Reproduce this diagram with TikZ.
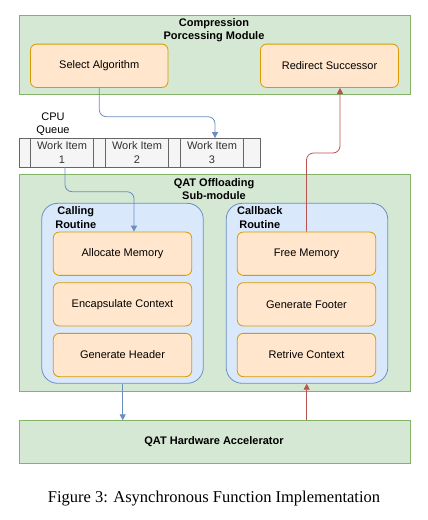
\documentclass[tikz,border=0pt]{standalone}
\usepackage{fontspec}
\setmainfont{Liberation Sans}
\newfontfamily\capfont{Liberation Serif}
\usetikzlibrary{arrows.meta,calc}
\definecolor{gfill}{HTML}{D5E8D4}
\definecolor{gdraw}{HTML}{82B366}
\definecolor{ofill}{HTML}{FFE6CC}
\definecolor{odraw}{HTML}{D79B00}
\definecolor{bfill}{HTML}{DAE8FC}
\definecolor{bdraw}{HTML}{6C8EBF}
\definecolor{qfill}{HTML}{F5F5F5}
\definecolor{qdraw}{HTML}{666666}
\definecolor{qtext}{HTML}{333333}
\definecolor{rdraw}{HTML}{B85450}
\tikzset{
  box/.style={draw=gdraw,fill=gfill,line width=0.8pt,inner sep=0pt,minimum width=391pt},
  opbox/.style={draw=odraw,fill=ofill,line width=0.8pt,rounded corners=6pt,inner sep=0pt,minimum height=43.3pt,font=\fontsize{11}{13}\selectfont},
  routine/.style={draw=bdraw,fill=bfill,line width=0.8pt,rounded corners=16pt,inner sep=0pt,minimum width=161.6pt,minimum height=180pt},
  cell/.style={draw=qdraw,fill=qfill,line width=0.8pt,inner sep=0pt,minimum height=28.5pt,align=center,text=qtext,font=\fontsize{11}{13.5}\selectfont},
  ttl/.style={align=center,font=\bfseries\fontsize{11}{13.5}\selectfont,inner sep=0pt},
  lbl/.style={align=center,font=\fontsize{11}{13}\selectfont,inner sep=0pt},
  bluearrow/.style={draw=bdraw,line width=0.8pt,rounded corners=7pt,-{Triangle[width=6pt,length=6pt]}},
  redarrow/.style={draw=rdraw,line width=0.8pt,rounded corners=7pt,-{Triangle[width=6pt,length=6pt]}},
}
\begin{document}
\begin{tikzpicture}[x=1pt,y=-1pt]
\useasboundingbox (0,0) rectangle (428,520);
% top module
\node[box,minimum height=79.5pt] (cpm) at (215,54.75) {};
\node[ttl] (cpmt) at (214,30) {Compression\\Porcessing Module};
\node[opbox,minimum width=137.5pt] (sel) at (99.25,65.75) {Select Algorithm};
\node[opbox,minimum width=138pt] (red) at (329.5,65.75) {Redirect Successor};
% queue
\node[lbl] (cpuq) at (53,124.5) {CPU\\Queue};
\node[cell,minimum width=11pt] (q0) at (25,152.75) {};
\node[cell,minimum width=63pt] (q1) at (62,152.75) {Work Item\\1};
\node[cell,minimum width=12pt] (qg1) at (99.5,152.75) {};
\node[cell,minimum width=63pt] (q2) at (137,152.75) {Work Item\\2};
\node[cell,minimum width=12pt] (qg2) at (174.5,152.75) {};
\node[cell,minimum width=63pt] (q3) at (212,152.75) {Work Item\\3};
\node[cell,minimum width=17pt] (q4) at (252,152.75) {};
% offloading module
\node[box,minimum height=216.5pt] (off) at (215,282.75) {};
\node[ttl] (offt) at (214,189) {QAT Offloading\\Sub-module};
\node[routine] (call) at (122.5,293.3) {};
\node[routine] (cb) at (307,293.3) {};
\node[ttl] (callt) at (75.8,217.5) {Calling\\Routine};
\node[ttl] (cbt) at (259.8,217.5) {Callback\\Routine};
\node[opbox,minimum width=138.4pt] (alloc) at (122.5,253.7) {Allocate Memory};
\node[opbox,minimum width=138.4pt] (enc) at (122.5,304.3) {Encapsulate Context};
\node[opbox,minimum width=138.4pt] (gh) at (122.5,355) {Generate Header};
\node[opbox,minimum width=138.4pt] (free) at (306.5,253.7) {Free Memory};
\node[opbox,minimum width=138.4pt] (gf) at (306.5,304.3) {Generate Footer};
\node[opbox,minimum width=138.4pt] (rc) at (306.5,355) {Retrive Context};
% hardware
\node[box,minimum height=42.3pt] (hw) at (215,441.85) {};
\node[ttl] (hwt) at (214,442) {QAT Hardware Accelerator};
% caption
\node[inner sep=0pt,font=\capfont\fontsize{16.5}{18}\selectfont] (cap) at (214,499) {Figure 3: Asynchronous Function Implementation};
% connectors
\coordinate (b1) at (215,116.7);
\draw[bluearrow] (sel.south) |- (b1) -- (b1 |- q3.north);
\coordinate (b2s) at (65,0);
\coordinate (b2) at (134,191.7);
\draw[bluearrow] (b2s |- q1.south) |- (b2) -- (b2 |- alloc.north);
\coordinate (r1) at (340,153);
\draw[redarrow] (free.north) |- (r1) -- (r1 |- red.south);
\coordinate (b3) at (122.7,0);
\draw[bluearrow] (b3 |- call.south) -- (b3 |- hw.north);
\coordinate (r2) at (306.7,0);
\draw[redarrow] (r2 |- hw.north) -- (r2 |- cb.south);
\end{tikzpicture}
\end{document}
